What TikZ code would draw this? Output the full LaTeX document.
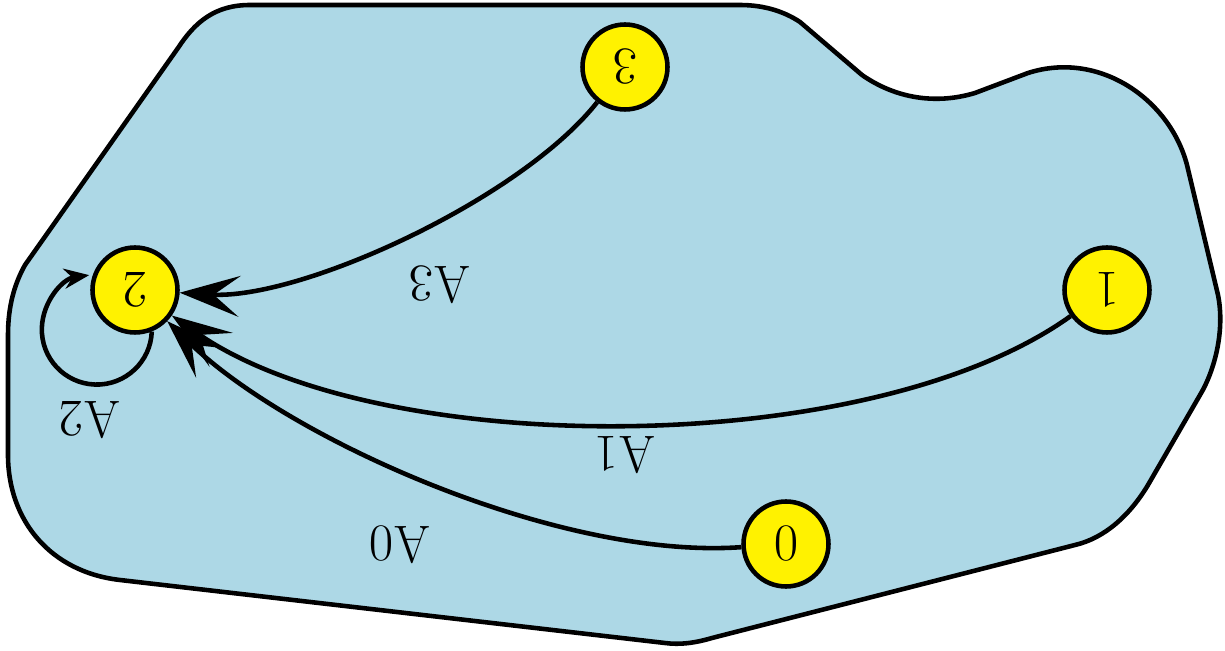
\documentclass[tikz,border=0pt]{standalone}
\usetikzlibrary{arrows.meta}
\definecolor{blobfill}{RGB}{173,216,230}
\tikzset{
  blob/.style={draw=black, line width=2.6pt, fill=blobfill, line join=round},
  state/.style={circle, draw=black, line width=2.6pt, fill=yellow, minimum size=1.7cm, inner sep=0pt, rotate=180, font=\fontsize{30}{36}\selectfont},
  edge/.style={draw=black, line width=2.6pt, -{Stealth[length=1.2cm, width=0.82cm, inset=0.52cm]}},
  loopedge/.style={draw=black, line width=2.6pt, -{Stealth[length=0.5cm, width=0.4cm, inset=0.16cm]}},
  lbl/.style={rotate=180, font=\fontsize{30}{36}\selectfont, inner sep=0pt}
}
\begin{document}
\begin{tikzpicture}[x=0.02cm, y=-0.02cm]
\useasboundingbox (0,0) rectangle (1225,651);
\draw[blob] (25,265) -- (178,48) .. controls (195,22) and (215,5) .. (250,5) -- (740,5) .. controls (765,5) and (785,12) .. (800,22) -- (862,75) .. controls (895,98) and (935,105) .. (975,93) -- (1028,73) .. controls (1100,50) and (1170,100) .. (1187,165) -- (1218,295) .. controls (1225,330) and (1215,370) .. (1200,395) -- (1148,485) .. controls (1130,515) and (1105,538) .. (1075,545) -- (712,638) .. controls (695,643) and (680,645) .. (665,643) -- (120,580) .. controls (50,572) and (8,520) .. (8,455) -- (8,335) .. controls (8,305) and (15,283) .. (25,265) -- cycle;
\node[state] (n3) at (625,67) {3};
\node[state] (n2) at (135,290) {2};
\node[state] (n1) at (1107,290) {1};
\node[state] (n0) at (786,544) {0};
\draw[edge] (n3) .. controls (520,200) and (300,300) .. (n2);
\draw[edge] (n1) .. controls (870,460) and (380,460) .. (n2);
\draw[edge] (n0) .. controls (560,560) and (290,440) .. (n2);
\draw[loopedge] (n2.112) arc[start angle=-2, end angle=-262, radius=1.1cm];
\node[lbl] (l3) at (440,285) {A3};
\node[lbl] (l1) at (625,455) {A1};
\node[lbl] (l0) at (400,545) {A0};
\node[lbl] (l2) at (90,420) {A2};
\end{tikzpicture}
\end{document}
